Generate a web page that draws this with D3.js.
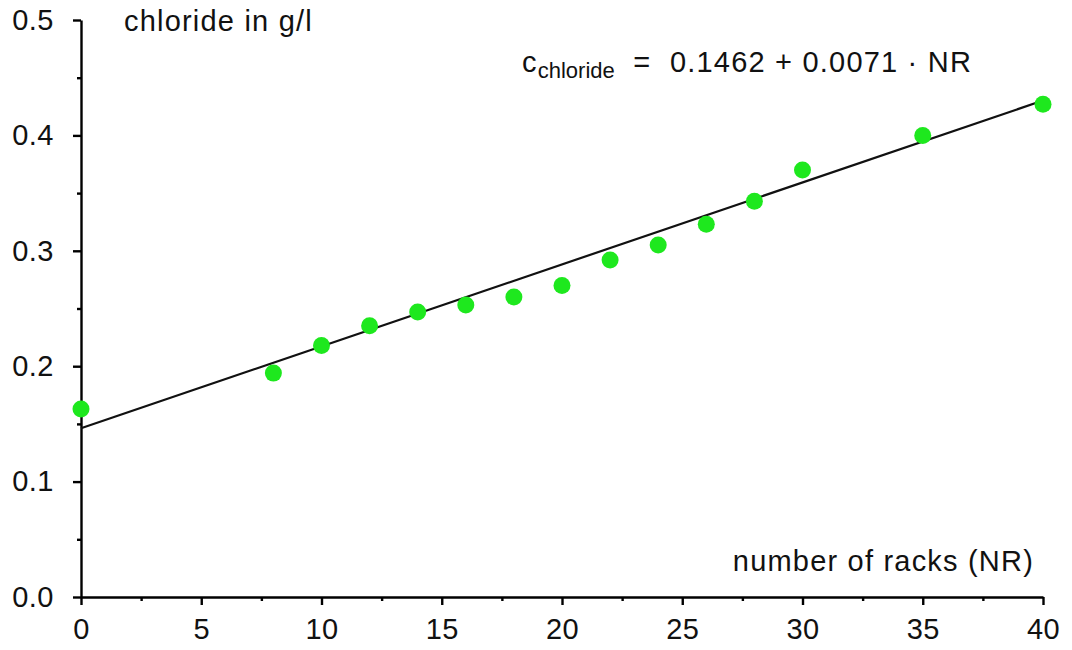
<!DOCTYPE html>
<html>
<head>
<meta charset="utf-8">
<script src="https://cdn.jsdelivr.net/npm/d3@7"></script>
<style>
  body { margin: 0; background: #fff; }
  text { font-family: "Liberation Sans", Arial, sans-serif; fill: #111; }
</style>
</head>
<body>
<div id="chart"></div>
<script>
const racks = [0, 8, 10, 12, 14, 16, 18, 20, 22, 24, 26, 28, 30, 35, 40];
const chloride = [0.163, 0.194, 0.218, 0.235, 0.247, 0.253, 0.260, 0.270, 0.292, 0.305, 0.323, 0.343, 0.370, 0.400, 0.427];
const intercept = 0.1462;
const slope = 0.0071;
const xTicks = [0, 5, 10, 15, 20, 25, 30, 35, 40];
const yTicks = [0, 0.1, 0.2, 0.3, 0.4, 0.5];

const width = 1072, height = 650;
const green = "#1ee81e";
const fontSize = 29;
const spacing = "1.2px";

const svg = d3.select("#chart").append("svg")
  .attr("width", width)
  .attr("height", height);

const x = d3.scaleLinear().domain([0, 40]).range([81, 1043]);
const y = d3.scaleLinear().domain([0, 0.5]).range([597, 20]);

const styleLabels = g => g.selectAll("text")
  .attr("font-size", fontSize)
  .attr("letter-spacing", "0.5px")
  .attr("font-family", "Liberation Sans, Arial, sans-serif")
  .attr("fill", "#111");

// x axis: major ticks down, minor in between
svg.append("g")
  .attr("transform", `translate(0,${y(0)})`)
  .call(d3.axisBottom(x).tickValues(xTicks).tickSize(8).tickPadding(13)
    .tickFormat(d3.format("d")).tickSizeOuter(0))
  .call(styleLabels);

svg.append("g")
  .attr("transform", `translate(0,${y(0)})`)
  .call(d3.axisBottom(x).tickValues(xTicks.slice(1).map(d => d - 2.5)).tickSize(4)
    .tickFormat("").tickSizeOuter(0))
  .call(g => g.select(".domain").remove());

// y axis
svg.append("g")
  .attr("transform", `translate(${x(0)},0)`)
  .call(d3.axisLeft(y).tickValues(yTicks).tickSize(8).tickPadding(19)
    .tickFormat(d3.format(".1f")).tickSizeOuter(0))
  .call(styleLabels);

svg.append("g")
  .attr("transform", `translate(${x(0)},0)`)
  .call(d3.axisLeft(y).tickValues(yTicks.slice(1).map(d => d - 0.05)).tickSize(4)
    .tickFormat("").tickSizeOuter(0))
  .call(g => g.select(".domain").remove());

svg.selectAll(".domain, .tick line").attr("stroke", "#000").attr("stroke-width", 2.4);

// fitted line
svg.append("line")
  .attr("x1", x(0)).attr("y1", y(intercept))
  .attr("x2", x(40)).attr("y2", y(intercept + slope * 40))
  .attr("stroke", "#111")
  .attr("stroke-width", 2.2);

// measured points
svg.selectAll("circle.pt")
  .data(racks.map((r, i) => ({ r, c: chloride[i] })))
  .join("circle")
  .attr("class", "pt")
  .attr("cx", d => x(d.r))
  .attr("cy", d => y(d.c))
  .attr("r", 8.5)
  .attr("fill", green);

// labels
svg.append("text")
  .attr("x", 124).attr("y", 31)
  .attr("font-size", fontSize)
  .attr("letter-spacing", spacing)
  .text("chloride in g/l");

svg.append("text")
  .attr("x", 1034).attr("y", 571)
  .attr("text-anchor", "end")
  .attr("font-size", fontSize)
  .attr("letter-spacing", spacing)
  .text("number of racks (NR)");

const eq = svg.append("text")
  .attr("x", 522).attr("y", 72)
  .attr("font-size", fontSize)
  .attr("letter-spacing", spacing);
eq.append("tspan").text("c");
eq.append("tspan").attr("font-size", 22).attr("letter-spacing", "0px").attr("dy", 6).text("chloride");
eq.append("tspan").attr("dy", -6)
  .text("\u00a0\u00a0=\u00a0\u00a0" + intercept.toFixed(4) + " + " + slope.toFixed(4) + " \u00b7 NR");
</script>
</body>
</html>
